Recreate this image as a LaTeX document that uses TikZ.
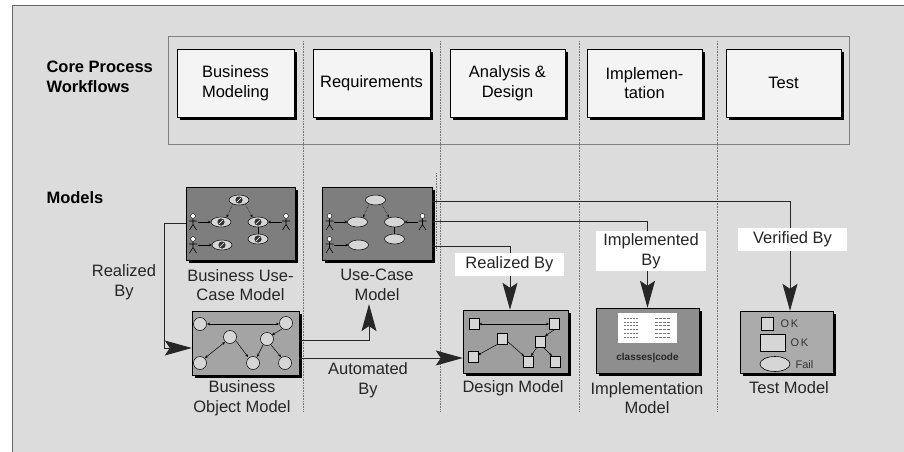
\documentclass[tikz,border=0pt]{standalone}
\usepackage{fontspec}
\setmainfont{Liberation Sans}
\usetikzlibrary{arrows.meta,shadows,shapes.geometric}

\definecolor{panel}{HTML}{DCDCDC}
\definecolor{flowfill}{HTML}{F4F4F4}
\definecolor{ucfill}{HTML}{7E7E7E}
\definecolor{objfill}{HTML}{A4A4A4}
\definecolor{dsgfill}{HTML}{9E9E9E}
\definecolor{impfill}{HTML}{8E8E8E}
\definecolor{tstfill}{HTML}{ABABAB}
\definecolor{iconfill}{HTML}{D6D6D6}

\tikzset{
  boxshadow/.style={drop shadow={shadow xshift=3pt,shadow yshift=-3pt,fill=black,opacity=1}},
  flow/.style={draw,fill=flowfill,minimum height=68pt,align=center,boxshadow},
  model/.style={draw,inner sep=0pt,boxshadow},
  caption/.style={align=center,text=black!85},
  tag/.style={fill=white,inner sep=1pt,align=center,text=black!85},
  divider/.style={black!55,densely dotted,line width=0.6pt},
  link/.style={black!85,line width=1pt},
  tiny/.style={line width=0.5pt,-{Stealth[length=3pt,width=2.5pt]}},
  smalltext/.style={anchor=west,font=\fontsize{11}{13}\selectfont,text=black!80},
  % use-case sketch, drawn round the centre of its box
  ucsketch/.pic={
    \foreach \a/\b in {-1.5/-23.5,-19.5/-1.5,17.5/-1.5,17.5/15.5,-18.5/21.5}
      \draw[fill=iconfill,line width=0.5pt] (\a,\b) ellipse [x radius=10,y radius=5];
    \foreach \a/\b in {-47.5/-1.5,-47.5/21.5,45.5/-1.5}{
      \draw[fill=white,line width=0.4pt] (\a,\b-6) circle [radius=2.4];
      \draw[line width=0.6pt] (\a,\b-3.5) -- (\a,\b+2.5) (\a-4,\b-1) -- (\a+4,\b-1)
        (\a-3.5,\b+8) -- (\a,\b+2.5) -- (\a+3.5,\b+8);
    }
    \draw[tiny] (-43,-1.5) -- (-29.5,-1.5);
    \draw[tiny] (-43,21.5) -- (-28.5,21.5);
    \draw[tiny] (41,-1.5) -- (27.5,-1.5);
    \draw[line width=0.8pt] (17.5,3.5) -- (17.5,10.5);
    \draw[tiny,densely dotted] (-8,-19) -- (-14,-6);
    \draw[tiny,densely dotted] (5,-19) -- (12,-6);
  }
}

\begin{document}
\begin{tikzpicture}[x=1pt,y=-1pt,font=\fontsize{16.5}{19.5}\selectfont,
    >={Stealth[length=27pt,width=15pt,inset=5pt]}]
  \useasboundingbox (0,0) rectangle (904,452);
  \fill[panel] (12,5) rectangle (904,452);
  \draw[black!60] (12,452) -- (12,5) -- (904,5);

  % discipline columns
  \foreach \x in {303,440,579,717}
    \draw[divider] (\x,41) -- (\x,412);
  \draw[divider] (436,173) -- (436,250);

  % workflows
  \node[anchor=west,align=left,font=\fontsize{16.5}{19.5}\selectfont\bfseries] (wflbl) at (43,77) {Core Process\\Workflows};
  \draw[black!50] (168,36) rectangle (849,144);
  \node[flow,minimum width=117pt] (bmod) at (235.5,83) {Business\\Modeling};
  \node[flow,minimum width=117pt] (req) at (371.5,83) {Requirements};
  \node[flow,minimum width=115pt] (ana) at (507.5,83) {Analysis \&\\Design};
  \node[flow,minimum width=115pt] (impl) at (644.5,83) {Implemen-\\tation};
  \node[flow,minimum width=115pt] (test) at (783.5,83) {Test};

  % models
  \node[anchor=west,font=\fontsize{16.5}{19.5}\selectfont\bfseries] (mdlbl) at (43,198) {Models};
  \node[model,fill=ucfill,minimum width=109pt,minimum height=73pt] (bucm) at (240.5,223.5) {};
  \node[model,fill=ucfill,minimum width=110pt,minimum height=73pt] (ucm) at (377,223.5) {};
  \node[model,fill=objfill,minimum width=107pt,minimum height=64pt] (bom) at (245.5,343) {};
  \node[model,fill=dsgfill,minimum width=105pt,minimum height=63pt] (dm) at (515.5,341.5) {};
  \node[model,fill=impfill,minimum width=103pt,minimum height=65pt] (im) at (647.5,340.5) {};
  \node[model,fill=tstfill,minimum width=93pt,minimum height=62pt] (tm) at (786.5,342) {};

  \pic at (bucm.center) {ucsketch};
  \pic at (ucm.center) {ucsketch};
  \foreach \a/\b in {239/200,221/222,258/222,258/239,222/245}{
    \fill[black!80] (\a,\b) circle [radius=3.6];
    \draw[white,line width=0.5pt] (\a-2,\b+2) -- (\a+2,\b-2);
  }

  % business objects
  \draw[tiny,{Stealth[length=3pt,width=2.5pt]}-{Stealth[length=3pt,width=2.5pt]}] (207,324) -- (279,324);
  \draw[tiny,{Stealth[length=3pt,width=2.5pt]}-{Stealth[length=3pt,width=2.5pt]}] (225,342) -- (205,358);
  \draw[tiny] (236,341) -- (248,357);
  \draw[tiny] (263,345) -- (257,357);
  \draw[tiny] (271,345) -- (281,357);
  \draw[tiny] (282,329) -- (272,335);
  \foreach \a/\b in {200/324,286/323,267/339,230/337,200/363,253/363,285/363}
    \draw[fill=iconfill,line width=0.5pt] (\a,\b) circle [radius=6.5];

  % design classes
  \draw[tiny,{Stealth[length=3pt,width=2.5pt]}-{Stealth[length=3pt,width=2.5pt]}] (479,324) -- (549,324);
  \draw[tiny] (498,344) -- (478,355);
  \draw[tiny] (507,341) -- (524,356);
  \draw[tiny] (537,347) -- (531,356);
  \draw[tiny] (543,347) -- (552,356);
  \draw[tiny] (554,330) -- (545,336);
  \foreach \a/\b in {474/324,554/324,502/339,540/342,473/357,528/362,555/362}
    \draw[fill=iconfill,line width=0.5pt] (\a-5,\b-5.5) rectangle (\a+5,\b+5.5);

  % code listing
  \fill[white] (618,313) rectangle (677,343);
  \foreach \r in {0,...,5}{
    \draw[black!55,line width=0.5pt,dash pattern=on 2pt off 1pt] (624,318+3.8*\r) -- ++(14,0);
    \draw[black!55,line width=0.5pt,dash pattern=on 3pt off 1pt] (655,318+3.8*\r) -- ++(16,0);
  }
  \node[font=\fontsize{10}{12}\selectfont\bfseries,text=black!85] (code) at (647.5,358) {classes{\textbar}code};

  % test results
  \draw[fill=iconfill,line width=0.6pt] (761,317) rectangle (773,330);
  \draw[fill=iconfill,line width=0.6pt] (760,334) rectangle (785,351);
  \draw[fill=iconfill,line width=0.6pt] (775,364) ellipse [x radius=15,y radius=7.5];
  \node[smalltext] (ok1) at (777,323.5) {O\,K};
  \node[smalltext] (ok2) at (787,342.5) {O\,K};
  \node[smalltext] (fail) at (792,364.5) {Fail};

  % captions
  \node[caption] (bucmcap) at (240.5,285) {Business Use-\\Case Model};
  \node[caption] (ucmcap) at (377,285) {Use-Case\\Model};
  \node[caption] (bomcap) at (242,398) {Business\\Object Model};
  \node[caption] (dmcap) at (513,388) {Design Model};
  \node[caption] (imcap) at (647,398) {Implementation\\Model};
  \node[caption] (tmcap) at (789,388) {Test Model};

  % relations
  \draw[link,->] (bucm.west) -- ++(-21,0) |- ([yshift=-5pt]bom.west);
  \node[caption] (realbo) at (124,282) {Realized\\By};
  \draw[link,->] ([yshift=3pt]bom.east) -| ([xshift=-8pt]ucmcap.south);
  \draw[link,->] ([yshift=-15pt]bom.east) -- ([yshift=-15pt]bom.east -| dm.west);
  \node[caption] (auto) at (368,380) {Automated\\By};
  \draw[link,->] ([yshift=22.5pt]ucm.east) -| ([xshift=3.5pt]tm.north);
  \draw[link,->] ([yshift=2.5pt]ucm.east) -| (im.north);
  \draw[link,->] ([yshift=-22.5pt]ucm.east) -| ([xshift=-5.5pt]dm.north);
  \node[tag,minimum width=109pt,minimum height=23pt] (verif) at (792.5,239.5) {Verified By};
  \node[tag,minimum width=110pt,minimum height=40pt] (implby) at (651,251) {Implemented\\By};
  \node[tag,minimum width=109pt,minimum height=23pt] (realdm) at (509.5,264.5) {Realized By};
\end{tikzpicture}
\end{document}
